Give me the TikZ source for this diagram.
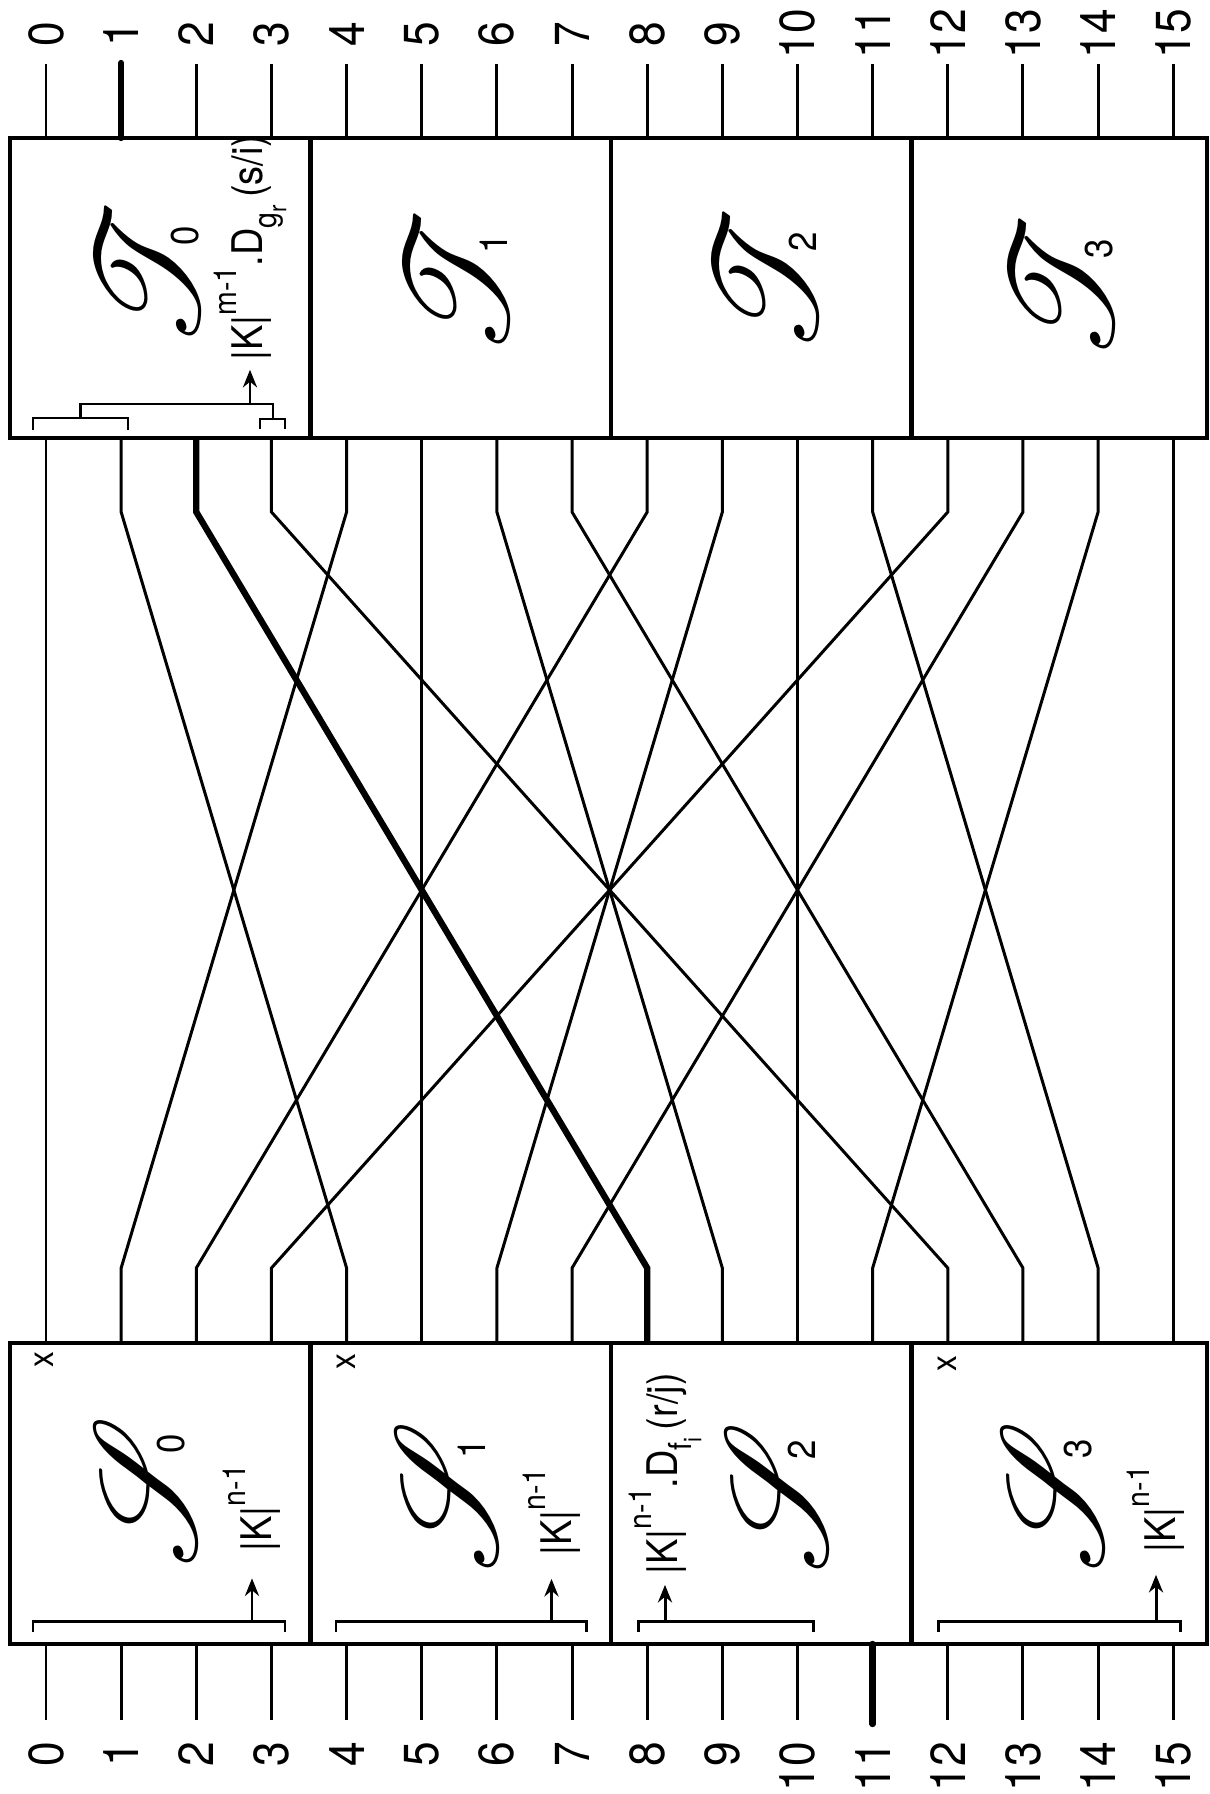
\documentclass[tikz,border=0pt]{standalone}
\usepackage{fontspec}
\setmainfont{TeX Gyre Heros}[FakeStretch=0.9]
\usepackage{graphicx}
\usepackage{mathrsfs}
\usetikzlibrary{arrows.meta, calc, fit}

% raised / lowered parts of the notes
\newcommand{\kpow}[1]{|K|\raisebox{0.62em}{\fontsize{9}{10}\selectfont #1}}
\newcommand{\dsub}[2]{.D\raisebox{-0.35em}{\fontsize{9}{10}\selectfont #1\raisebox{-0.3em}{\fontsize{7}{8}\selectfont #2}}}
% script letter (rsfs stops at 24.88pt, so it is scaled) with its index
\newcommand{\blockname}[4]{\scalebox{1.65}{$\mathscr{#1}$}\rlap{\kern#3\raisebox{#4}{\fontsize{11}{12}\selectfont #2}}}

\tikzset{
    % wires and blocks
    wire/.style={
        line width=0.85pt,
        black
    },
    heavy wire/.style={
        line width=1.8pt,
        black,
        line cap=round
    },
    block/.style={
        rectangle,
        draw=black,
        line width=1.2pt,
        inner sep=0pt
    },
    pin label/.style={
        rotate=90,
        inner sep=1pt,
        font=\fontsize{14}{16}\selectfont
    },
    box name/.style={
        rotate=90,
        inner sep=0pt,
        font=\fontsize{24.88}{26}\selectfont
    },
    note/.style={
        rotate=90,
        anchor=west,
        inner sep=0pt,
        font=\fontsize{12}{14}\selectfont
    },
    cross mark/.style={
        rotate=90,
        inner sep=0pt,
        font=\fontsize{10}{11}\selectfont
    },
    brace line/.style={
        line width=0.85pt
    },
    up arrow/.style={
        line width=0.85pt,
        -{Stealth[length=5pt, width=4pt]}
    }
}

\begin{document}
\begin{tikzpicture}[x=0.01cm, y=-0.01cm]
    \useasboundingbox (0,0) rectangle (1209,1794);

    % blocks
    \foreach \k/\l/\r in {0/10/310.5, 1/310.5/611, 2/611/911.5, 3/911.5/1207} {
        \node[block, fit={(\l,138) (\r,438)}] (T\k) {};
        \node[block, fit={(\l,1343) (\r,1644)}] (S\k) {};
    }

    % pins and labels
    \foreach \i in {0,...,15} {
        \pgfmathsetmacro\xx{46+75.15*\i}
        \coordinate (t\i) at (\xx,438);
        \coordinate (b\i) at (\xx,1343);
        \draw[wire] (\xx,138) -- (\xx,64);
        \draw[wire] (\xx,1644) -- (\xx,1720);
        \node[pin label] (top\i) at (\xx,34) {\i};
        \node[pin label, anchor=east] (bot\i) at (\xx,1738) {\i};
    }
    \draw[heavy wire] (121.15,138) -- (121.15,63);
    \draw[heavy wire] (872.65,1644) -- (872.65,1724);

    % wiring between the blocks
    \foreach \i in {0,...,15} {
        \pgfmathtruncatemacro\j{4*mod(\i,4)+int(\i/4)}
        \draw[wire] (t\i) -- ++(0,74) -- ($(b\j)+(0,-75)$) -- (b\j);
    }
    \draw[heavy wire, line cap=butt] (t2) -- ++(0,74) -- ($(b8)+(0,-75)$) -- (b8);

    % names of the blocks
    \node[box name] (T0name) at (148,275) {\blockname{T}{0}{-13pt}{0pt}};
    \node[box name] (T1name) at (457,283) {\blockname{T}{1}{-13pt}{0pt}};
    \node[box name] (T2name) at (766,281) {\blockname{T}{2}{-13pt}{0pt}};
    \node[box name] (T3name) at (1062,288) {\blockname{T}{3}{-13pt}{0pt}};
    \node[box name] (S0name) at (145,1491) {\blockname{S}{0}{-11pt}{3pt}};
    \node[box name] (S1name) at (446,1496) {\blockname{S}{1}{-11pt}{3pt}};
    \node[box name] (S2name) at (776,1497) {\blockname{S}{2}{-11pt}{3pt}};
    \node[box name] (S3name) at (1052,1496) {\blockname{S}{3}{-11pt}{3pt}};

    % T0
    \draw[brace line] (33,430) -- (33,418) -- (128,418) -- (128,430);
    \draw[brace line] (260,429) -- (260,419) -- (285,419) -- (285,429);
    \draw[brace line] (80.5,418) -- (80.5,404) -- (273,404) -- (273,419);
    \coordinate (T0brace) at (250,404);
    \node[note] (T0note) at (250,361) {\kpow{m-1}\dsub{g}{r}\,(s/i)};
    \draw[up arrow, shorten >=2.5pt] (T0brace) -- (T0note.west);

    % S0
    \draw[brace line] (33,1632) -- (33,1621) -- (285,1621) -- (285,1632);
    \coordinate (S0brace) at (252,1621);
    \node[note] (S0note) at (252,1552) {\kpow{n-1}};
    \draw[up arrow, shorten >=7.5pt] (S0brace) -- (S0note.west);
    \node[cross mark] (S0x) at (44,1360) {x};

    % S1
    \draw[brace line] (336,1632) -- (336,1621) -- (586,1621) -- (586,1632);
    \coordinate (S1brace) at (551.5,1621);
    \node[note] (S1note) at (551.5,1556) {\kpow{n-1}};
    \draw[up arrow, shorten >=6.5pt] (S1brace) -- (S1note.west);
    \node[cross mark] (S1x) at (346.5,1362) {x};

    % S2
    \draw[brace line] (638,1632) -- (638,1621) -- (813,1621) -- (813,1632);
    \coordinate (S2brace) at (665,1621);
    \node[note] (S2note) at (665,1575) {\kpow{n-1}\dsub{f}{i}\,(r/j)};
    \draw[up arrow, shorten >=2.8pt] (S2brace) -- (S2note.west);

    % S3
    \draw[brace line] (938,1632) -- (938,1621) -- (1180,1621) -- (1180,1632);
    \coordinate (S3brace) at (1156,1621);
    \node[note] (S3note) at (1156,1553) {\kpow{n-1}};
    \draw[up arrow, shorten >=6.2pt] (S3brace) -- (S3note.west);
    \node[cross mark] (S3x) at (947,1364) {x};
\end{tikzpicture}
\end{document}
